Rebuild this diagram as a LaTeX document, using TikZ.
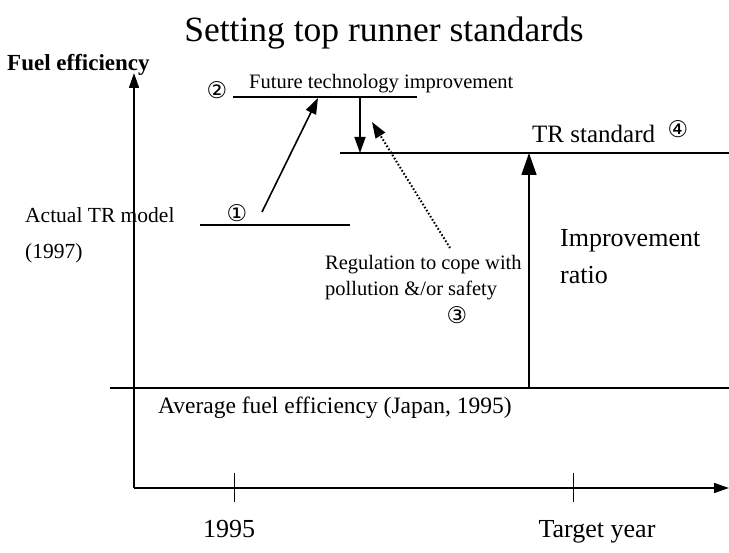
\documentclass[tikz,border=0pt]{standalone}
\usepackage{fontspec}
\setmainfont{Liberation Serif}
\newfontfamily\circfont{DejaVu Sans}
\usetikzlibrary{arrows.meta}
\tikzset{
  lbl/.style={inner sep=0pt, anchor=west, font=\fontsize{20.5}{22}\selectfont},
  big/.style={lbl, font=\fontsize{26}{28}\selectfont},
  num/.style={inner sep=0pt, font=\circfont\fontsize{23}{24}\selectfont},
  year/.style={inner sep=0pt, anchor=base, font=\fontsize{26}{28}\selectfont},
  level/.style={line width=1.6pt},
  axis/.style={line width=1.6pt, -{Triangle[length=15pt,width=10pt]}},
  flow/.style={line width=1.6pt, -{Triangle[length=16pt,width=11pt]}},
  opt/.style={flow, dotted, line width=2pt},
  tick/.style={line width=1pt}
}
\begin{document}
\begin{tikzpicture}[x=1pt,y=-1pt]
  \useasboundingbox (0,0) rectangle (729,553);
  \node[font=\fontsize{35.5}{38}\selectfont, inner sep=0pt, anchor=base] (title) at (384,42) {Setting top runner standards};
  \node[lbl, font=\bfseries\fontsize{23}{25}\selectfont] (yname) at (7,65) {Fuel efficiency};

  \coordinate (o) at (134,488);
  \coordinate (ytop) at (134,73);
  \coordinate (xend) at (729,488);
  \draw[axis] (o) -- (ytop);
  \draw[axis] (o) -- (xend);
  \draw[tick] (234,473) -- (234,502);
  \draw[tick] (573,473) -- (573,502);
  \node[year] (y1995) at (229,537) {1995};
  \node[year] (ytarget) at (597,537) {Target year};

  \coordinate (avgL) at (110,388);
  \coordinate (avgR) at (729,388);
  \draw[level] (avgL) -- (avgR);
  \node[lbl, font=\fontsize{23.5}{25}\selectfont] (avg) at (158,408) {Average fuel efficiency (Japan, 1995)};

  \coordinate (actL) at (200,225);
  \coordinate (actR) at (350,225);
  \draw[level] (actL) -- (actR);
  \node[lbl, font=\fontsize{21.5}{23}\selectfont] (act) at (25,215) {Actual TR model};
  \node[lbl, font=\fontsize{21.5}{23}\selectfont] (act97) at (25,253) {(1997)};
  \node[num] (n1) at (237,213) {①};

  \coordinate (futL) at (233,97);
  \coordinate (futR) at (417,97);
  \draw[level] (futL) -- (futR);
  \node[num] (n2) at (217,90) {②};
  \node[lbl] (fut) at (249,84) {Future technology improvement};

  \coordinate (trL) at (340,153);
  \coordinate (trR) at (729,153);
  \draw[level] (trL) -- (trR);
  \node[lbl, font=\fontsize{25}{27}\selectfont] (tr) at (532,134) {TR standard};
  \node[num] (n4) at (678,129) {④};

  \coordinate (upS) at (262,212);
  \coordinate (upE) at (318,98);
  \coordinate (dnS) at (360,97);
  \coordinate (dnE) at (360,153);
  \coordinate (regS) at (450,248);
  \coordinate (regE) at (372,122);
  \coordinate (impS) at (529,388);
  \coordinate (impE) at (529,153);
  \draw[flow] (upS) -- (upE);
  \draw[flow] (dnS) -- (dnE);
  \draw[opt] (regS) -- (regE);
  \draw[flow, -{Triangle[length=22pt,width=15pt]}] (impS) -- (impE);

  \node[lbl] (reg) at (325,265) {Regulation to cope with};
  \node[lbl] (pol) at (325,290) {pollution \&/or safety};
  \node[num] (n3) at (457,315) {③};
  \node[big] (imp) at (560,241) {Improvement};
  \node[big] (ratio) at (560,275) {ratio};
\end{tikzpicture}
\end{document}
